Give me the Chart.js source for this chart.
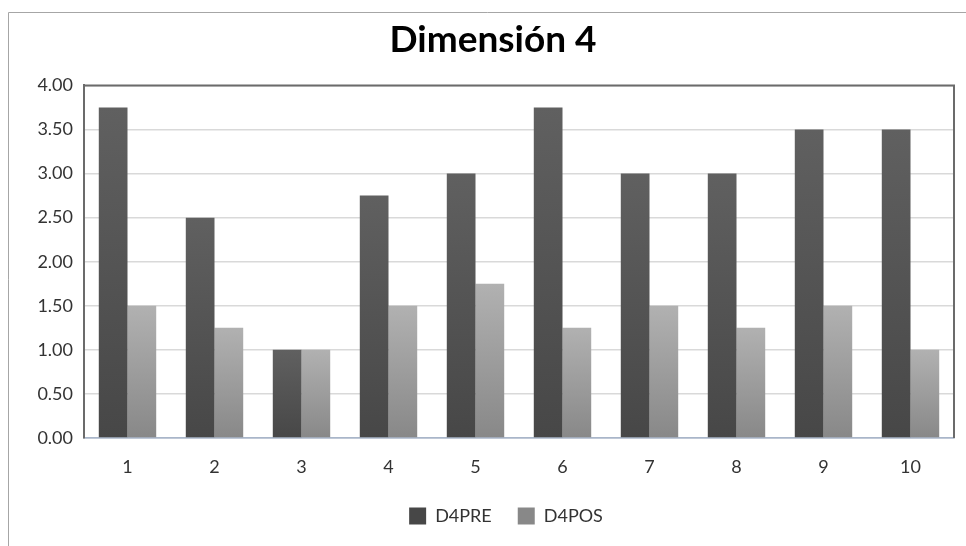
<!DOCTYPE html>
<html>
<head>
<meta charset="utf-8">
<script src="https://cdn.jsdelivr.net/npm/chart.js@4/dist/chart.umd.min.js"></script>
<style>
html,body{margin:0;padding:0;background:#fff;overflow:hidden;}
canvas{display:block;}
</style>
</head>
<body>
<canvas id="c" width="966" height="546"></canvas>
<script>
const categories = ['1','2','3','4','5','6','7','8','9','10'];
const d4pre = [3.75, 2.5, 1.0, 2.75, 3.0, 3.75, 3.0, 3.0, 3.5, 3.5];
const d4pos = [1.5, 1.25, 1.0, 1.5, 1.75, 1.25, 1.5, 1.25, 1.5, 1.0];
const seriesNames = ['D4PRE', 'D4POS'];
const chartTitle = 'Dimensión 4';
const yMin = 0, yMax = 4, yStep = 0.5;

function barGradient(cTop, cBottom, solid) {
  return (ctx) => {
    if (ctx.type !== 'data') return solid;
    const chart = ctx.chart;
    const ys = chart.scales && chart.scales.y;
    if (!chart.chartArea || !ys) return solid;
    const top = ys.getPixelForValue(ctx.parsed.y);
    const bottom = ys.getPixelForValue(0);
    if (!isFinite(top) || !isFinite(bottom) || top === bottom) return solid;
    const g = chart.ctx.createLinearGradient(0, top, 0, bottom);
    g.addColorStop(0, cTop);
    g.addColorStop(1, cBottom);
    return g;
  };
}

const framePlugin = {
  id: 'frame',
  beforeDraw(chart) {
    const c = chart.ctx;
    c.save();
    c.fillStyle = '#ffffff';
    c.fillRect(0, 0, chart.width, chart.height);
    c.strokeStyle = '#a6a6a6';
    c.lineWidth = 1;
    c.beginPath();
    c.moveTo(8.5, chart.height);
    c.lineTo(8.5, 12.5);
    c.lineTo(chart.width, 12.5);
    c.stroke();
    c.restore();
  },
  afterLayout(chart) {
    chart.legend.left += 13;
    chart.legend.right += 13;
  },
  afterDatasetsDraw(chart) {
    const a = chart.chartArea;
    const c = chart.ctx;
    c.save();
    c.strokeStyle = '#6b6b6b';
    c.lineWidth = 2;
    c.beginPath();
    c.moveTo(a.left, a.top);
    c.lineTo(a.right, a.top);
    c.lineTo(a.right, a.bottom);
    c.stroke();
    c.restore();
  }
};

const font = 'Lato, "Open Sans", sans-serif';

new Chart(document.getElementById('c'), {
  type: 'bar',
  data: {
    labels: categories,
    datasets: [
      {
        label: seriesNames[0],
        data: d4pre,
        backgroundColor: barGradient('#606060', '#474747', '#535353'),
        borderWidth: 0,
        categoryPercentage: 0.66,
        barPercentage: 1.0
      },
      {
        label: seriesNames[1],
        data: d4pos,
        backgroundColor: barGradient('#b1b1b1', '#888888', '#9d9d9d'),
        borderWidth: 0,
        categoryPercentage: 0.66,
        barPercentage: 1.0
      }
    ]
  },
  options: {
    responsive: false,
    devicePixelRatio: 1,
    animation: false,
    layout: { padding: { left: 32, right: 12, top: 0, bottom: 11 } },
    plugins: {
      title: {
        display: true,
        text: chartTitle,
        color: '#000000',
        font: { family: font, size: 37, weight: 'bold', lineHeight: 1.2 },
        padding: { top: 18, bottom: 23 }
      },
      legend: {
        display: true,
        position: 'bottom',
        labels: {
          color: '#333333',
          font: { family: font, size: 18 },
          boxWidth: 17,
          boxHeight: 17,
          padding: 26
        }
      },
      tooltip: { enabled: false }
    },
    scales: {
      x: {
        grid: { display: false, drawTicks: false },
        border: { display: true, color: '#a9b6c9', width: 1.5 },
        ticks: {
          color: '#333333',
          font: { family: font, size: 18 },
          padding: 18,
          maxRotation: 0
        },
        afterFit(s) { s.height = 43; }
      },
      y: {
        min: yMin,
        max: yMax,
        grid: {
          drawTicks: false,
          color: (ctx) => ctx.tick && ctx.tick.value === yMin ? '#a9b6c9' : '#d9d9d9',
          lineWidth: 1.5
        },
        border: { display: true, color: '#6b6b6b', width: 2 },
        ticks: {
          stepSize: yStep,
          color: '#333333',
          font: { family: font, size: 18 },
          padding: 11,
          callback: (v) => Number(v).toFixed(2)
        },
        afterFit(s) { s.width = 52; }
      }
    }
  },
  plugins: [framePlugin]
});
</script>
</body>
</html>
